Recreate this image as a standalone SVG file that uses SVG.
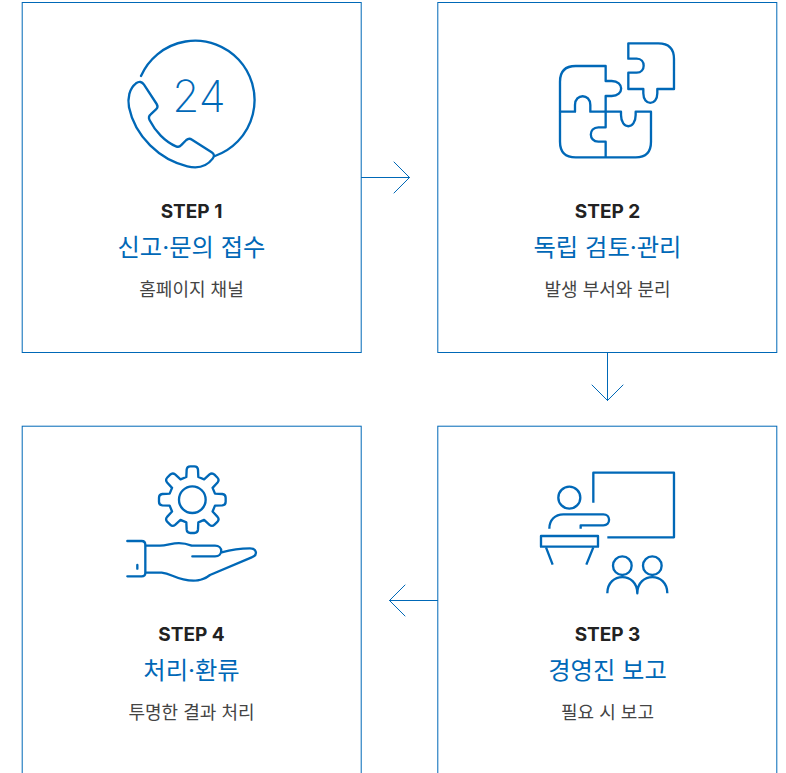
<svg xmlns="http://www.w3.org/2000/svg" width="786" height="773" viewBox="0 0 786 773">
<style>
.box{fill:#fff;stroke:#0068b7;stroke-width:1}
.ln{fill:none;stroke:#0068b7;stroke-linecap:round;stroke-linejoin:round}
.ic{fill:none;stroke:#0068b7;stroke-width:7;stroke-linejoin:round}
.t{text-anchor:middle}
.s{font:700 19px Inter,"Noto Sans CJK KR",sans-serif;fill:#222}
.h{font:400 24.300px Inter,"Noto Sans CJK KR",sans-serif;fill:#0068b7}
.d{font:400 18px Inter,"Noto Sans CJK KR",sans-serif;fill:#444}
</style>
<rect width="786" height="773" fill="#fff"/>
<g id="step1">
<rect class="box" x="22.200" y="2.500" width="339" height="350"/>
<g class="ic" transform="translate(110 30) scale(.3333)">
<path stroke-linecap="round" d="M93 138A178 178 0 1 1 315 378"/>
<path d="M78 160C88 153 96 155 102 164L140 222C145 230 143 234 138 238L122 253C116 258 115 263 119 271C135 303 165 335 198 349C205 352 209 351 213 346L229 330C235 325 240 325 246 329L305 367C313 372 314 378 308 386C290 410 262 416 232 409C150 390 75 320 57 232C52 205 58 175 78 160Z"/>
</g>
<text x="199" y="112" class="t" style="font:200 44px Inter,sans-serif;fill:#0068b7">24</text>
<text x="191.500" y="217.700" class="t s">STEP 1</text>
<text x="191.500" y="256" class="t h">신고·문의 접수</text>
<text x="191.500" y="295.500" class="t d">홈페이지 채널</text>
</g>
<g id="step2">
<rect class="box" x="437.800" y="2.500" width="339" height="350"/>
<g class="ic" transform="translate(540 30) scale(.3333)">
<path d="M265 40H355Q402 40 402 87V177H352V190C352 228 310 228 310 190V177H265V128H290C318 128 318 86 290 86H265Z"/>
<path d="M197 245V198H215C253 198 253 153 215 153H197V108H107Q60 108 60 155V245H105V225C105 190 151 190 151 225V245H197"/>
<path d="M60 245V335Q60 382 107 382H287Q333 382 333 335V245H287V255C287 300 243 300 243 255V245H197V292H175C145 292 145 335 175 335H197V385"/>
</g>
<text x="607.500" y="217.700" class="t s">STEP 2</text>
<text x="607.500" y="256" class="t h">독립 검토·관리</text>
<text x="607.500" y="295.500" class="t d">발생 부서와 분리</text>
</g>
<g id="step3">
<rect class="box" x="437.800" y="426.200" width="339" height="360"/>
<g class="ic" transform="translate(530 460) scale(.3333)">
<path d="M190 128V38H432V232H232"/>
<circle cx="118" cy="113" r="33"/>
<path d="M58 206C58 180 75 163 100 163H220C243 163 243 196 220 196H152V206"/>
<rect x="33" y="228" width="171" height="32"/>
<path d="M48 262 68 314M190 262 169 314"/>
<circle cx="277" cy="317" r="28"/><circle cx="367" cy="317" r="28"/>
<path d="M232 400C232 335 322 335 322 400C322 335 412 335 412 400"/>
</g>
<text x="607.500" y="640.700" class="t s">STEP 3</text>
<text x="607.500" y="679" class="t h">경영진 보고</text>
<text x="607.500" y="718.500" class="t d">필요 시 보고</text>
</g>
<g id="step4">
<rect class="box" x="22.200" y="426.200" width="339" height="360"/>
<g class="ic" transform="translate(120 460) scale(.3333)">
<g transform="translate(217 119)">
<circle r="40"/>
<path d="M-18-68L-17-90Q-16-100-6-100H6Q16-100 17-90L18-68L35.400-60.800L51.600-75.700Q59.400-82 66.500-75L75-66.500Q82-59.400 75.700-51.600L60.800-35.400L68-18L90-17Q100-16 100-6V6Q100 16 90 17L68 18L60.800 35.400L75.700 51.600Q82 59.400 75 66.500L66.500 75Q59.400 82 51.600 75.700L35.400 60.800L18 68L17 90Q16 100 6 100H-6Q-16 100-17 90L-18 68L-35.400 60.800L-51.600 75.700Q-59.400 82-66.500 75L-75 66.500Q-82 59.400-75.700 51.600L-60.800 35.400L-68 18L-90 17Q-100 16-100 6V-6Q-100-16-90-17L-68-18L-60.800-35.400L-75.700-51.600Q-82-59.400-75-66.500L-66.500-75Q-59.400-82-51.600-75.700L-35.400-60.800Z"/>
</g>
<path stroke-linecap="round" d="M22 243H65Q76 243 76 255V338Q76 349 65 349H22M52 315V326"/>
<path stroke-linecap="round" d="M78 257H120C150 257 170 240 215 257H285C310 257 310 289 285 289H217M305 277C330 270 370 265 390 265C410 265 415 285 395 292L270 345C245 365 220 365 190 358C160 352 150 340 125 338H78"/>
</g>
<text x="191.500" y="640.700" class="t s">STEP 4</text>
<text x="191.500" y="679" class="t h">처리·환류</text>
<text x="191.500" y="718.500" class="t d">투명한 결과 처리</text>
</g>
<g id="connectors" class="ln">
<path d="M361.500 177.500H409.500M394 162 409.500 177.500 394 193"/>
<path d="M607.500 352.500V400.500M592 385 607.500 400.500 623 385"/>
<path d="M437.500 600.500H389.500M405 585 389.500 600.500 405 616"/>
</g>
</svg>
